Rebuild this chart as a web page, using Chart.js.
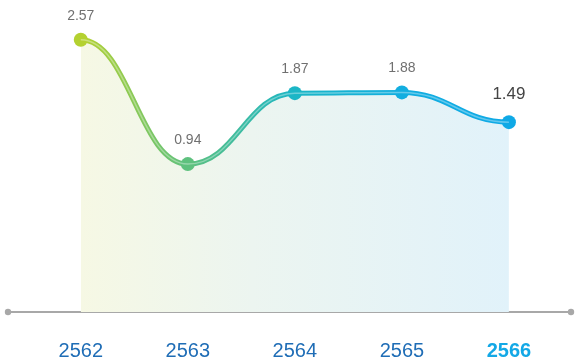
<!DOCTYPE html>
<html>
<head>
<meta charset="utf-8">
<script src="https://cdn.jsdelivr.net/npm/chart.js@4.4.1/dist/chart.umd.min.js"></script>
<style>
  html, body { margin: 0; padding: 0; background: #fff; }
  #wrap { width: 578px; height: 362px; }
</style>
</head>
<body>
<div id="wrap"><canvas id="trend"></canvas></div>
<script>
const years = ['2562', '2563', '2564', '2565', '2566'];
const values = [2.57, 0.94, 1.87, 1.88, 1.49];
const pointColors = ['#b4d130', '#5ec17e', '#1bb6c6', '#12aee0', '#0fa9e6'];
const labelColors = ['#1f6db6', '#1f6db6', '#1f6db6', '#1f6db6', '#13a8e6'];

const points = values.map(function (v, i) { return { x: i, y: v }; });

function lineGradient(context) {
  const chart = context.chart;
  const area = chart.chartArea;
  if (!area) {
    return '#5ec17e';
  }
  const xs = chart.scales.x;
  const g = chart.ctx.createLinearGradient(xs.getPixelForValue(0), 0, xs.getPixelForValue(4), 0);
  g.addColorStop(0, '#b4d130');
  g.addColorStop(0.25, '#5ec17e');
  g.addColorStop(0.5, '#1bb6c6');
  g.addColorStop(0.75, '#12aee0');
  g.addColorStop(1, '#0fa9e6');
  return g;
}

function fillGradient(context) {
  const chart = context.chart;
  const area = chart.chartArea;
  if (!area) {
    return 'rgba(0,0,0,0)';
  }
  const xs = chart.scales.x;
  const g = chart.ctx.createLinearGradient(xs.getPixelForValue(0), 0, xs.getPixelForValue(4), 0);
  g.addColorStop(0, '#f6f8e4');
  g.addColorStop(0.4, '#ecf5f0');
  g.addColorStop(1, '#e1f2fa');
  return g;
}

// flatten the curve at every point: horizontal control handles
const flatTangents = {
  id: 'flatTangents',
  beforeDatasetsDraw(chart) {
    chart.data.datasets.forEach(function (ds, di) {
      const meta = chart.getDatasetMeta(di);
      const line = meta.dataset;
      line.updateControlPoints(chart.chartArea, 'x');
      const pts = meta.data;
      pts.forEach(function (p, i) {
        const prev = pts[i - 1];
        const next = pts[i + 1];
        p.cp1x = prev ? p.x - (p.x - prev.x) * 0.45 : p.x;
        p.cp1y = p.y;
        p.cp2x = next ? p.x + (next.x - p.x) * 0.45 : p.x;
        p.cp2y = p.y;
      });
    });
  }
};

// value labels above each point, last one larger
const valueLabels = {
  id: 'valueLabels',
  afterDatasetsDraw(chart) {
    const ctx = chart.ctx;
    const meta = chart.getDatasetMeta(0);
    ctx.save();
    ctx.textAlign = 'center';
    ctx.textBaseline = 'middle';
    meta.data.forEach(function (pt, i) {
      const last = i === values.length - 1;
      ctx.font = (last ? '17px' : '14px') + ' "Liberation Sans", Arial, sans-serif';
      ctx.fillStyle = last ? '#444' : '#707070';
      ctx.fillText(values[i].toFixed(2), pt.x, pt.y - (last ? 28 : 24));
    });
    ctx.restore();
  }
};

// round caps on both ends of the baseline
const axisDots = {
  id: 'axisDots',
  afterDraw(chart) {
    const a = chart.chartArea;
    const ctx = chart.ctx;
    ctx.save();
    ctx.fillStyle = '#a8a8a8';
    [a.left, a.right].forEach(function (x) {
      ctx.beginPath();
      ctx.arc(x, a.bottom, 3.2, 0, Math.PI * 2);
      ctx.fill();
    });
    ctx.restore();
  }
};

new Chart(document.getElementById('trend'), {
  type: 'line',
  data: {
    datasets: [
      {
        data: points,
        borderColor: lineGradient,
        borderWidth: 5,
        backgroundColor: fillGradient,
        fill: 'start',
        tension: 0.4,
        pointRadius: 7,
        pointHoverRadius: 7,
        pointBorderWidth: 0,
        pointBackgroundColor: pointColors,
        order: 2
      },
      {
        // thin light stripe along the curve
        data: points,
        borderColor: 'rgba(255,255,255,0.35)',
        borderWidth: 1.5,
        fill: false,
        tension: 0.4,
        pointRadius: 0,
        order: 1
      }
    ]
  },
  options: {
    responsive: true,
    maintainAspectRatio: false,
    animation: false,
    events: [],
    layout: {
      padding: { top: 7, left: 8, right: 5, bottom: -28 }
    },
    plugins: {
      legend: { display: false },
      tooltip: { enabled: false }
    },
    scales: {
      x: {
        type: 'linear',
        min: -0.68,
        max: 4.58,
        afterBuildTicks(scale) {
          scale.ticks = years.map(function (y, i) { return { value: i }; });
        },
        grid: { display: false, drawTicks: false },
        border: { display: true, color: '#a8a8a8', width: 2 },
        ticks: {
          padding: 27,
          autoSkip: false,
          maxRotation: 0,
          callback: function (v) { return years[v]; },
          color: function (c) { return labelColors[c.index]; },
          font: function (c) {
            return {
              family: '"Liberation Sans", Arial, sans-serif',
              size: 20,
              weight: c.index === years.length - 1 ? 'bold' : 'normal'
            };
          }
        }
      },
      y: {
        display: false,
        min: -1,
        max: 3
      }
    }
  },
  plugins: [flatTangents, valueLabels, axisDots]
});
</script>
</body>
</html>
